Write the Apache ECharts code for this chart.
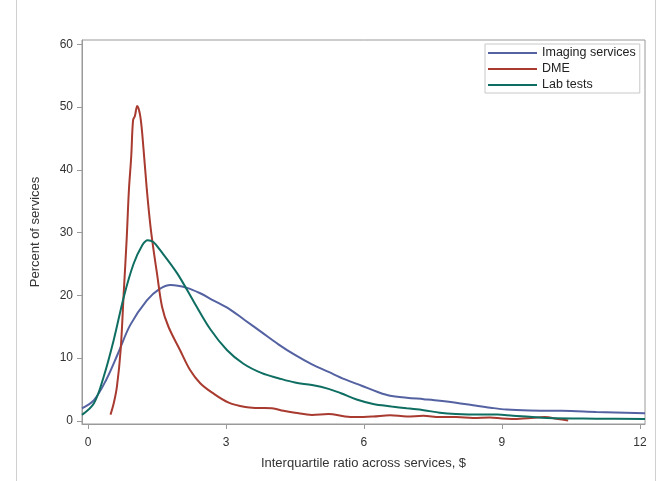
<!DOCTYPE html>
<html>
<head>
<meta charset="utf-8">
<script src="https://cdn.jsdelivr.net/npm/echarts@6/dist/echarts.min.js"></script>
<style>
	html, body { margin: 0; padding: 0; background: #fff; }
	#chart { width: 660px; height: 481px; }
</style>
</head>
<body>
<div id="chart"></div>
<script>
// 数据（从图上读出的 [x, 百分比] 点）
const seriesNames = ['Imaging services', 'DME', 'Lab tests'];
const xTicks = [0, 3, 6, 9, 12];
const yTicks = [0, 10, 20, 30, 40, 50, 60];

const imaging = [
	[-0.13, 2.0], [0.13, 3.3], [0.4, 6.6], [0.65, 10.7], [0.92, 15.3], [1.28, 19.2],
	[1.55, 21.0], [1.8, 21.65], [2.15, 21.2], [2.45, 20.3], [2.7, 19.3], [3.06, 17.9],
	[3.42, 16.0], [3.78, 14.1], [4.14, 12.2], [4.5, 10.5], [4.87, 9.0], [5.23, 7.8],
	[5.59, 6.6], [5.95, 5.6], [6.3, 4.6], [6.57, 4.0], [6.93, 3.7], [7.3, 3.45],
	[7.65, 3.2], [8.0, 2.9], [8.37, 2.5], [8.75, 2.1], [9.1, 1.8], [9.6, 1.65],
	[10.3, 1.6], [11.05, 1.43], [12.11, 1.2],
];
const dme = [
	[0.49, 1.0], [0.56, 2.8], [0.63, 5.5], [0.71, 11.3], [0.78, 20.8], [0.84, 28.8],
	[0.89, 36.8], [0.94, 42.1], [0.98, 47.9], [1.02, 48.6], [1.07, 50.2], [1.14, 48.4],
	[1.21, 43.1], [1.28, 36.8], [1.36, 30.9], [1.43, 27.0], [1.5, 23.5], [1.61, 18.2],
	[1.75, 15.0], [2.0, 11.3], [2.22, 8.1], [2.44, 6.0], [2.7, 4.5], [3.06, 2.9],
	[3.42, 2.2], [3.7, 2.05], [4.0, 2.0], [4.25, 1.6], [4.5, 1.3], [4.87, 0.95],
	[5.23, 1.1], [5.59, 0.7], [5.84, 0.6], [6.2, 0.7], [6.57, 0.9], [6.93, 0.7],
	[7.29, 0.8], [7.65, 0.6], [8.01, 0.6], [8.37, 0.45], [8.74, 0.55], [9.0, 0.37],
	[9.21, 0.3], [9.57, 0.43], [9.93, 0.6], [10.22, 0.3], [10.44, 0.05],
];
const labTests = [
	[-0.13, 0.95], [0.13, 2.8], [0.34, 7.0], [0.56, 12.9], [0.78, 19.8], [0.99, 25.0],
	[1.18, 28.0], [1.3, 28.8], [1.42, 28.5], [1.57, 27.2], [1.94, 23.5], [2.3, 19.0],
	[2.66, 14.6], [3.02, 11.3], [3.38, 9.1], [3.78, 7.6], [4.14, 6.8], [4.5, 6.1],
	[4.87, 5.7], [5.23, 5.1], [5.5, 4.4], [5.84, 3.4], [6.2, 2.7], [6.6, 2.3],
	[6.93, 2.0], [7.3, 1.7], [7.65, 1.3], [8.0, 1.1], [8.5, 1.0], [8.9, 1.0],
	[9.24, 0.8], [9.6, 0.65], [9.97, 0.45], [11.05, 0.35], [12.11, 0.3],
];
const colors = ['#5462a2', '#a83a2f', '#0f6e62'];

const chart = echarts.init(document.getElementById('chart'), null, { renderer: 'canvas' });
const font = 'Liberation Sans, Arial, sans-serif';

const makeLine = (name, data, color) => ({
	name: name,
	type: 'line',
	data: data,
	symbol: 'none',
	smooth: 0.35,
	lineStyle: { color: color, width: 2 },
	itemStyle: { color: color },
	z: 3,
});

const option = {
	backgroundColor: '#fff',
	animation: false,
	textStyle: { fontFamily: font },
	grid: {
		left: 82,
		right: 15,
		top: 40,
		bottom: 57,
		show: true,
		borderColor: '#9a9a9a',
		borderWidth: 1,
		containLabel: false,
	},
	legend: {
		orient: 'vertical',
		left: 485,
		top: 44,
		data: seriesNames,
		icon: 'rect',
		itemWidth: 49,
		itemHeight: 2,
		itemGap: 2,
		padding: [2, 4, 1, 3],
		borderColor: '#c8c8c8',
		borderWidth: 1,
		textStyle: { fontFamily: font, fontSize: 12.5, color: '#222', lineHeight: 14 },
	},
	xAxis: {
		type: 'value',
		min: -0.13,
		max: 12.11,
		name: 'Interquartile ratio across services, $',
		nameLocation: 'middle',
		nameGap: 33,
		nameTextStyle: { fontFamily: font, fontSize: 13, color: '#333' },
		axisLine: { show: true, onZero: false, lineStyle: { color: '#9a9a9a' } },
		axisTick: { show: true, customValues: xTicks, length: 5, lineStyle: { color: '#9a9a9a' } },
		axisLabel: { customValues: xTicks, margin: 13, fontFamily: font, fontSize: 12, color: '#333' },
		splitLine: { show: false },
	},
	yAxis: {
		type: 'value',
		min: -0.5,
		max: 60.7,
		name: 'Percent of services',
		nameLocation: 'middle',
		nameRotate: 90,
		nameGap: 40,
		nameTextStyle: { fontFamily: font, fontSize: 13, color: '#333' },
		axisLine: { show: true, onZero: false, lineStyle: { color: '#9a9a9a' } },
		axisTick: { show: true, customValues: yTicks, length: 5, lineStyle: { color: '#9a9a9a' } },
		axisLabel: { customValues: yTicks, margin: 9, fontFamily: font, fontSize: 12, color: '#333' },
		splitLine: { show: false },
	},
	// 外框的左右竖线
	graphic: [
		{ type: 'line', shape: { x1: 16.5, y1: 0, x2: 16.5, y2: 481 }, style: { stroke: '#d0d0d0', lineWidth: 1 } },
		{ type: 'line', shape: { x1: 655.5, y1: 0, x2: 655.5, y2: 481 }, style: { stroke: '#d0d0d0', lineWidth: 1 } },
	],
	series: [
		makeLine(seriesNames[0], imaging, colors[0]),
		makeLine(seriesNames[1], dme, colors[1]),
		makeLine(seriesNames[2], labTests, colors[2]),
	],
};

chart.setOption(option);
</script>
</body>
</html>
